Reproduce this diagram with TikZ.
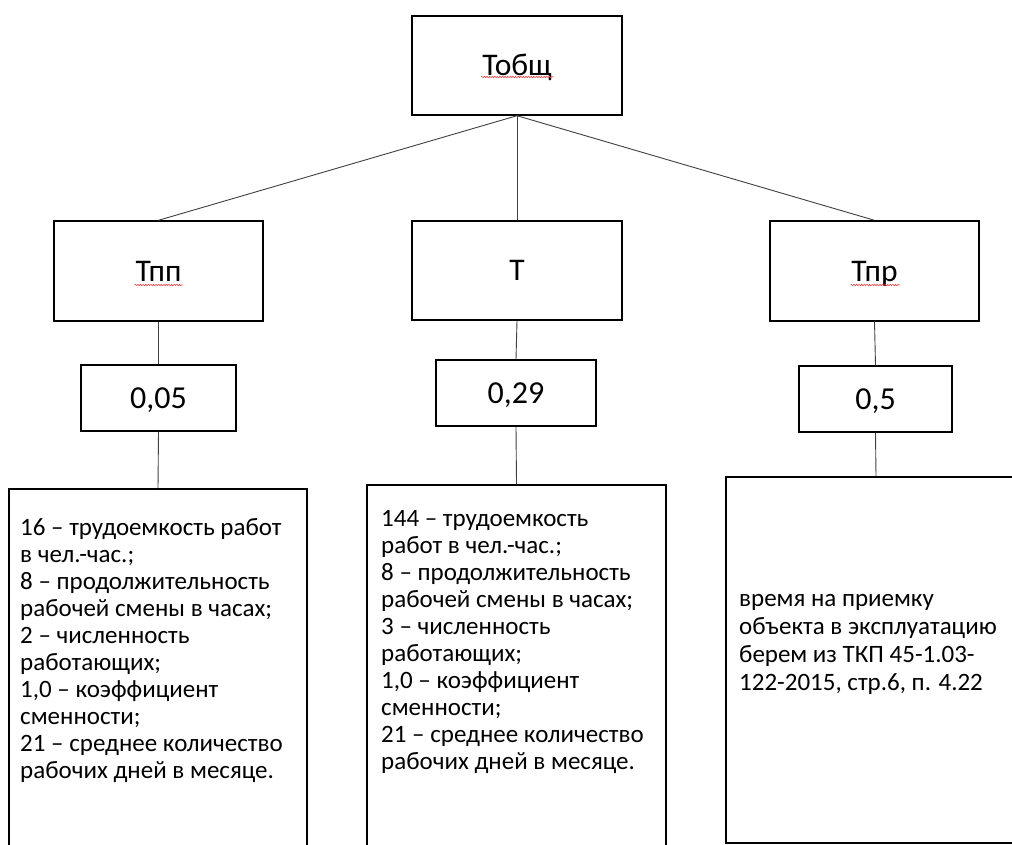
\documentclass[tikz,border=0pt]{standalone}
\usepackage{fontspec}
\setmainfont{Carlito}
\usetikzlibrary{decorations.pathmorphing}
\begin{document}
\begin{tikzpicture}[x=1pt,y=-1pt,
  box/.style={draw=black,line width=1.4pt,rectangle,inner sep=0pt},
  title/.style={box,font=\fontsize{31.5}{36}\selectfont,text height=20pt,text depth=0pt},
  val/.style={box,font=\fontsize{32}{36}\selectfont,text height=20pt,text depth=0pt},
  desc/.style={inner sep=0pt,anchor=north west,align=left,font=\fontsize{25}{27}\selectfont},
  conn/.style={draw=black!75,line width=0.9pt},
  wavy/.style={draw=red!75,line width=0.6pt,decorate,decoration={snake,amplitude=0.7pt,segment length=2.6pt}}]
\clip (0,0) rectangle (1012,845);
\fill[white] (0,0) rectangle (1012,845);
% level 0
\node[title,minimum width=210,minimum height=99] (tob) at (517,65.5) {Тобщ};
% level 1
\node[title,minimum width=209,minimum height=100] (tpp) at (158.5,271) {Тпп};
\node[title,minimum width=210,minimum height=99] (t) at (517,270.5) {Т};
\node[title,minimum width=209,minimum height=100] (tpr) at (874.5,271) {Тпр};
% values
\node[val,minimum width=155,minimum height=66] (v1) at (158.5,398) {0,05};
\node[val,minimum width=160,minimum height=66] (v2) at (516,393) {0,29};
\node[val,minimum width=153,minimum height=66] (v3) at (875.5,399) {0,5};
% description boxes (extend past the page edge)
\node[box,minimum width=298,minimum height=380] (b1) at (158,679) {};
\node[box,minimum width=299,minimum height=380] (b2) at (516.5,675) {};
\node[box,minimum width=300,minimum height=366] (b3) at (876,660) {};
% texts
\node[desc] (d1) at (20,518) {16 – трудоемкость работ\\в чел.-час.;\\8 – продолжительность\\рабочей смены в часах;\\2 – численность\\работающих;\\1,0 – коэффициент\\сменности;\\21 – среднее количество\\рабочих дней в месяце.};
\node[desc] (d2) at (381,510) {144 – трудоемкость\\работ в чел.-час.;\\8 – продолжительность\\рабочей смены в часах;\\3 – численность\\работающих;\\1,0 – коэффициент\\сменности;\\21 – среднее количество\\рабочих дней в месяце.};
\node[desc,font=\fontsize{25}{28}\selectfont] (d3) at (739,594) {время на приемку\\объекта в эксплуатацию\\берем из ТКП 45-1.03-\\122-2015, стр.6, п. 4.22};
% connectors
\draw[conn] (tob.south) -- (tpp.north);
\draw[conn] (tob.south) -- (t.north);
\draw[conn] (tob.south) -- (tpr.north);
\draw[conn] (tpp.south) -- (v1.north);
\draw[conn] (t.south) -- (v2.north);
\draw[conn] (tpr.south) -- (v3.north);
\draw[conn] (v1.south) -- (b1.north);
\draw[conn] (v2.south) -- (b2.north);
\draw[conn] (v3.south) -- (b3.north);
% spell-check underlines
\draw[wavy] ([xshift=-36pt,yshift=-11.5pt]tob.center) -- ([xshift=36pt,yshift=-11.5pt]tob.center);
\draw[wavy] ([xshift=-24pt,yshift=-14pt]tpp.center) -- ([xshift=24pt,yshift=-14pt]tpp.center);
\draw[wavy] ([xshift=-24pt,yshift=-14pt]tpr.center) -- ([xshift=25pt,yshift=-14pt]tpr.center);
\end{tikzpicture}
\end{document}
